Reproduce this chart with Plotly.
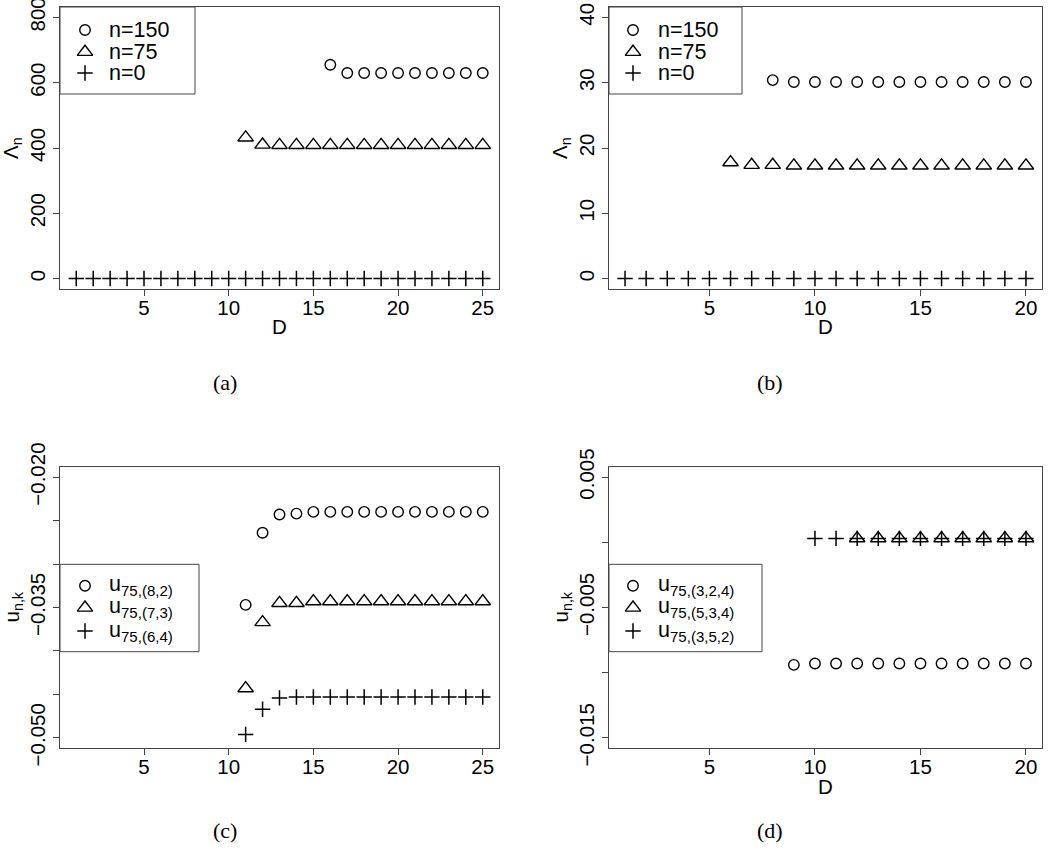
import plotly.graph_objects as go

# ---------------- data ----------------
# panel (a)
a_D150 = [16, 17, 18, 19, 20, 21, 22, 23, 24, 25]
a_n150 = [655, 630, 630, 630, 630, 630, 630, 630, 630, 630]
a_D75 = [11, 12, 13, 14, 15, 16, 17, 18, 19, 20, 21, 22, 23, 24, 25]
a_n75 = [432, 410, 409, 409, 409, 409, 409, 409, 409, 409, 409, 409, 409, 409, 409]
a_D0 = [1, 2, 3, 4, 5, 6, 7, 8, 9, 10, 11, 12, 13, 14, 15, 16, 17, 18, 19, 20, 21, 22, 23, 24, 25]
a_n0 = [0, 0, 0, 0, 0, 0, 0, 0, 0, 0, 0, 0, 0, 0, 0, 0, 0, 0, 0, 0, 0, 0, 0, 0, 0]

# panel (b)
b_D150 = [8, 9, 10, 11, 12, 13, 14, 15, 16, 17, 18, 19, 20]
b_n150 = [30.4, 30.1, 30.1, 30.1, 30.1, 30.1, 30.1, 30.1, 30.1, 30.1, 30.1, 30.1, 30.1]
b_D75 = [6, 7, 8, 9, 10, 11, 12, 13, 14, 15, 16, 17, 18, 19, 20]
b_n75 = [17.8, 17.4, 17.4, 17.3, 17.3, 17.3, 17.3, 17.3, 17.3, 17.3, 17.3, 17.3, 17.3, 17.3, 17.3]
b_D0 = [1, 2, 3, 4, 5, 6, 7, 8, 9, 10, 11, 12, 13, 14, 15, 16, 17, 18, 19, 20]
b_n0 = [0, 0, 0, 0, 0, 0, 0, 0, 0, 0, 0, 0, 0, 0, 0, 0, 0, 0, 0, 0]

# panel (c)
c_D = [11, 12, 13, 14, 15, 16, 17, 18, 19, 20, 21, 22, 23, 24, 25]
c_u82 = [-0.0347, -0.0264, -0.0243, -0.0242, -0.0240, -0.0240, -0.0240, -0.0240,
         -0.0240, -0.0240, -0.0240, -0.0240, -0.0240, -0.0240, -0.0240]
c_u73 = [-0.0443, -0.0367, -0.0345, -0.0345, -0.0343, -0.0343, -0.0343, -0.0343,
         -0.0343, -0.0343, -0.0343, -0.0343, -0.0343, -0.0343, -0.0343]
c_u64 = [-0.0496, -0.0467, -0.0454, -0.0453, -0.0453, -0.0453, -0.0453, -0.0453,
         -0.0453, -0.0453, -0.0453, -0.0453, -0.0453, -0.0453, -0.0453]

# panel (d)
d_D324 = [9, 10, 11, 12, 13, 14, 15, 16, 17, 18, 19, 20]
d_u324 = [-0.0094, -0.0093, -0.0093, -0.0093, -0.0093, -0.0093, -0.0093, -0.0093,
          -0.0093, -0.0093, -0.0093, -0.0093]
d_D534 = [12, 13, 14, 15, 16, 17, 18, 19, 20]
d_u534 = [0.0003, 0.0003, 0.0003, 0.0003, 0.0003, 0.0003, 0.0003, 0.0003, 0.0003]
d_D352 = [10, 11, 12, 13, 14, 15, 16, 17, 18, 19, 20]
d_u352 = [0.0003, 0.0003, 0.0003, 0.0003, 0.0003, 0.0003, 0.0003, 0.0003, 0.0003, 0.0003, 0.0003]

# tick labels
a_yticks = [0, 200, 400, 600, 800]
b_yticks = [0, 10, 20, 30, 40]
c_yticks = [-0.050, -0.045, -0.040, -0.035, -0.030, -0.025, -0.020]
c_ytext = ["\u22120.050", "", "", "\u22120.035", "", "", "\u22120.020"]
d_yticks = [-0.015, -0.010, -0.005, 0.000, 0.005]
d_ytext = ["\u22120.015", "", "\u22120.005", "", "0.005"]
a_xticks = [5, 10, 15, 20, 25]
b_xticks = [5, 10, 15, 20]

legend_a = ["n=150", "n=75", "n=0"]
legend_c = ["u<sub>75,(8,2)</sub>", "u<sub>75,(7,3)</sub>", "u<sub>75,(6,4)</sub>"]
legend_d = ["u<sub>75,(3,2,4)</sub>", "u<sub>75,(5,3,4)</sub>", "u<sub>75,(3,5,2)</sub>"]

# ---------------- layout helpers ----------------
W, H = 1050, 858
FONT = "Liberation Sans, Arial, sans-serif"
SERIF = "Liberation Serif, DejaVu Serif, serif"
BOX = "#444444"
TICKSIZE = 20.5
LEGSIZE = 21.5

def px_x(p):
    return p / W

def px_y(p):
    return 1 - p / H

panels = {
    1: dict(x=(60, 499), y=(7, 289)),
    2: dict(x=(609, 1042), y=(7, 289)),
    3: dict(x=(60, 499), y=(466.7, 748.3)),
    4: dict(x=(609, 1042), y=(466.7, 748.3)),
}

CIRC = dict(symbol="circle-open", size=10.5, color="black", line=dict(width=1.4, color="black"))
TRI = dict(symbol="triangle-up-open", size=13.5, color="black", line=dict(width=1.4, color="black"))
PLUS = dict(symbol="cross-thin-open", size=11, color="black", line=dict(width=1.5, color="black"))

fig = go.Figure()

def add(xs, ys, marker, k):
    xa = "x" if k == 1 else f"x{k}"
    ya = "y" if k == 1 else f"y{k}"
    fig.add_trace(go.Scatter(x=xs, y=ys, mode="markers", marker=marker, cliponaxis=False,
                             xaxis=xa, yaxis=ya, showlegend=False, hoverinfo="skip"))

add(a_D150, a_n150, CIRC, 1)
add(a_D75, a_n75, TRI, 1)
add(a_D0, a_n0, PLUS, 1)
add(b_D150, b_n150, CIRC, 2)
add(b_D75, b_n75, TRI, 2)
add(b_D0, b_n0, PLUS, 2)
add(c_D, c_u82, CIRC, 3)
add(c_D, c_u73, TRI, 3)
add(c_D, c_u64, PLUS, 3)
add(d_D324, d_u324, CIRC, 4)
add(d_D534, d_u534, TRI, 4)
add(d_D352, d_u352, PLUS, 4)

xranges = {1: [0.04, 25.96], 2: [0.24, 20.76], 3: [0.04, 25.96], 4: [0.24, 20.76]}
yranges = {1: [-32, 832], 2: [-1.6, 41.6], 3: [-0.0512, -0.0188], 4: [-0.0158, 0.0058]}
xticks = {1: a_xticks, 2: b_xticks, 3: a_xticks, 4: b_xticks}
yticks = {1: (a_yticks, [str(v) for v in a_yticks]),
          2: (b_yticks, [str(v) for v in b_yticks]),
          3: (c_yticks, c_ytext),
          4: (d_yticks, d_ytext)}

layout = dict(template="none", width=W, height=H, autosize=False,
              margin=dict(l=0, r=0, t=0, b=0, pad=0, autoexpand=False),
              paper_bgcolor="white", plot_bgcolor="white", showlegend=False)

for k, p in panels.items():
    sx = "" if k == 1 else str(k)
    layout[f"xaxis{sx}"] = dict(
        domain=[px_x(p["x"][0]), px_x(p["x"][1])], range=xranges[k], automargin=False,
        anchor=f"y{sx}", tickmode="array", tickvals=xticks[k],
        ticks="outside", ticklen=6, tickcolor=BOX, tickwidth=1, ticklabelstandoff=-6,
        ticklabeloverflow="allow",
        showline=True, mirror=True, linecolor=BOX, linewidth=1,
        showgrid=False, zeroline=False,
        tickfont=dict(family=FONT, size=TICKSIZE, color="black"))
    tv, tt = yticks[k]
    layout[f"yaxis{sx}"] = dict(
        domain=[px_y(p["y"][1]), px_y(p["y"][0])], range=yranges[k], automargin=False,
        anchor=f"x{sx}", tickmode="array", tickvals=tv, ticktext=tt,
        ticks="outside", ticklen=6, tickcolor=BOX, tickwidth=1, tickangle=-90,
        ticklabeloverflow="allow",
        showline=True, mirror=True, linecolor=BOX, linewidth=1,
        showgrid=False, zeroline=False,
        tickfont=dict(family=FONT, size=TICKSIZE, color="black"))

fig.update_layout(**layout)

shapes = []
annotations = []

# legend glyphs are drawn on the panel's own axes, converted from pixel positions
def to_data(k, px, py):
    p = panels[k]
    xr, yr = xranges[k], yranges[k]
    xd = xr[0] + (px - p["x"][0]) / (p["x"][1] - p["x"][0]) * (xr[1] - xr[0])
    yd = yr[1] - (py - p["y"][0]) / (p["y"][1] - p["y"][0]) * (yr[1] - yr[0])
    return xd, yd

legend_specs = [
    # panel, box (x0, y0, x1, y1), glyph x, text x, row ys, labels
    (1, (60, 7, 195, 94), 85, 107, (30, 52, 73), legend_a),
    (2, (609, 7, 742, 94), 633, 656, (30, 52, 73), legend_a),
    (3, (60, 564.3, 199, 651.7), 85, 107, (585.7, 607.7, 631), legend_c),
    (4, (609, 564.3, 762, 651.7), 633, 656, (585.7, 607.7, 631), legend_d),
]
for k, box, gx, tx, rows, labels in legend_specs:
    shapes.append(dict(type="rect", xref="paper", yref="paper",
                       x0=px_x(box[0]), y0=px_y(box[3]), x1=px_x(box[2]), y1=px_y(box[1]),
                       line=dict(color=BOX, width=1), fillcolor="rgba(0,0,0,0)", layer="above"))
    for marker, ry, lab in zip((CIRC, TRI, PLUS), rows, labels):
        xd, yd = to_data(k, gx, ry)
        add([xd], [yd], marker, k)
        annotations.append(dict(xref="paper", yref="paper", x=px_x(tx), y=px_y(ry), text=lab,
                                showarrow=False, xanchor="left", yanchor="middle",
                                font=dict(family=FONT, size=LEGSIZE, color="black")))

# axis titles
for k, p in panels.items():
    cx = (p["x"][0] + p["x"][1]) / 2
    cy = (p["y"][0] + p["y"][1]) / 2
    if k != 3:
        annotations.append(dict(xref="paper", yref="paper", x=px_x(cx), y=px_y(p["y"][1] + 38),
                                text="D", showarrow=False, xanchor="center", yanchor="middle",
                                font=dict(family=FONT, size=TICKSIZE, color="black")))
    ylab = "\u039b<sub>n</sub>" if k in (1, 2) else "u<sub>n,k</sub>"
    annotations.append(dict(xref="paper", yref="paper", x=px_x(p["x"][0] - 48), y=px_y(cy),
                            text=ylab, showarrow=False, textangle=-90,
                            xanchor="center", yanchor="middle",
                            font=dict(family=FONT, size=TICKSIZE, color="black")))

captions = [("(a)", 225, 382), ("(b)", 770, 382), ("(c)", 225, 830), ("(d)", 770, 830)]
for t, x, y in captions:
    annotations.append(dict(xref="paper", yref="paper", x=px_x(x), y=px_y(y), text=t,
                            showarrow=False, xanchor="center", yanchor="middle",
                            font=dict(family=SERIF, size=22, color="black")))

fig.update_layout(shapes=shapes, annotations=annotations)
fig.write_html("out.html", config={"displayModeBar": False},
               post_script="document.body.style.margin='0';")
